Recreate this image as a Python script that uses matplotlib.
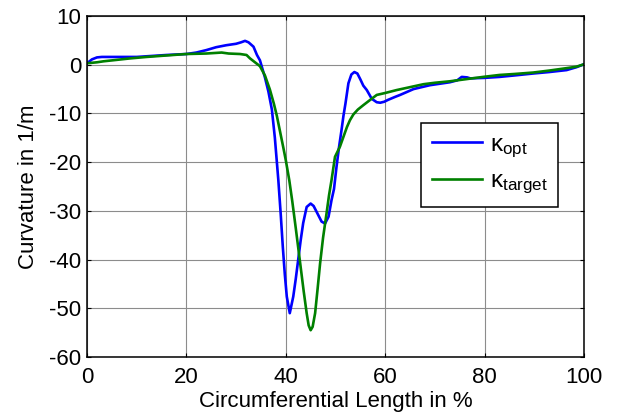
import numpy as np
import matplotlib
matplotlib.use('Agg')
import matplotlib.pyplot as plt

plt.rcParams['font.family'] = ['Liberation Sans', 'DejaVu Sans']
plt.rcParams['mathtext.fontset'] = 'custom'
plt.rcParams['mathtext.rm'] = 'Liberation Sans'
plt.rcParams['mathtext.it'] = 'Liberation Sans'
plt.rcParams['axes.unicode_minus'] = False

# kappa_opt (blue)
x_opt = [0, 1, 2, 3, 5, 8, 10, 13, 16, 20, 22, 24, 26, 28, 30, 31, 31.8, 32.5,
         33.5, 34.2, 34.8, 35.8, 36.5, 37.2, 37.8, 38.5, 39.0, 39.4, 39.8, 40.2,
         40.8, 41.5, 42.0, 42.5, 43.0, 43.5, 44.2, 45.0, 45.6, 46.2, 47.2, 47.9,
         48.6, 49.2, 49.7, 50.2, 50.7, 51.2, 51.6, 52.0, 52.6, 53.2, 53.8, 54.4,
         55.0, 55.6, 56.3, 57.3, 58.3, 59.0, 59.8, 60.6, 62, 63, 65.7, 69, 73,
         74.5, 75.4, 76.5, 77.1, 80, 83, 86, 89.8, 93, 96.5, 98.5, 100]
k_opt = [0.3, 1.1, 1.5, 1.6, 1.6, 1.6, 1.6, 1.8, 2.0, 2.2, 2.5, 3.0, 3.6, 4.0,
         4.3, 4.6, 4.9, 4.6, 3.7, 2.0, 0.9, -2.6, -5.5, -9.2, -15, -23.7, -31,
         -37.4, -43, -47.6, -51.0, -47.6, -44, -40, -36, -32.5, -29.2, -28.5,
         -29.0, -30.2, -32.2, -32.6, -31.2, -27.8, -25.5, -21, -17, -13.5, -10.5,
         -8, -3.8, -2.0, -1.5, -1.8, -3.0, -4.3, -5.2, -7.0, -7.7, -7.8, -7.6,
         -7.2, -6.6, -6.2, -5.0, -4.2, -3.6, -3.2, -2.5, -2.6, -2.8, -2.7, -2.5,
         -2.2, -1.8, -1.5, -1.1, -0.5, 0.1]

# kappa_target (green)
x_target = [0, 2, 3.3, 6, 8.7, 12, 16, 20, 24, 27.1, 28.5, 30.8, 32.1, 32.8, 33.8,
            34.8, 35.8, 36.8, 37.6, 38.2, 38.8, 39.5, 40.0, 40.7, 41.3, 42.0, 42.9,
            43.6, 44.2, 44.6, 45.0, 45.4, 45.9, 46.4, 46.9, 47.5, 48.2, 48.7, 49.2,
            49.9, 50.9, 51.6, 52.3, 52.9, 53.6, 54.5, 55.6, 57.0, 58.3, 60, 62.3,
            65, 67.7, 70, 73, 76, 79.7, 83, 86, 89.8, 93, 96.5, 98.5, 100]
k_target = [0.3, 0.5, 0.7, 1.0, 1.3, 1.6, 1.9, 2.2, 2.3, 2.5, 2.3, 2.2, 2.0, 1.3,
            0.5, -0.3, -2.2, -5.1, -8, -10.5, -13.5, -17, -19.6, -23.7, -28,
            -33.5, -40.8, -46.5, -51, -53.5, -54.5, -53.8, -51, -46, -40.8, -35.5,
            -30.5, -26.8, -23.7, -18.9, -16.8, -14.8, -12.8, -11.4, -10.2, -9.2,
            -8.3, -7.2, -6.2, -5.8, -5.2, -4.6, -4.0, -3.7, -3.4, -3.0, -2.5, -2.1,
            -1.9, -1.6, -1.2, -0.7, -0.4, 0.1]

xticks = [0, 20, 40, 60, 80, 100]
yticks = [-60, -50, -40, -30, -20, -10, 0, 10]

fig = plt.figure(figsize=(6.17, 4.16), dpi=100)
ax = fig.add_axes([0.141, 0.1418, 0.8055, 0.8197])

ax.plot(x_opt, k_opt, color='#0000ff', lw=1.9, label=r'κ$_{\mathrm{opt}}$')
ax.plot(x_target, k_target, color='#008000', lw=1.9, label=r'κ$_{\mathrm{target}}$')

ax.set_xlim(0, 100)
ax.set_ylim(-60, 10)
ax.set_xticks(xticks)
ax.set_yticks(yticks)
ax.grid(True, color='#8c8c8c', lw=0.8)
ax.tick_params(direction='in', length=3, width=0.8, top=True, right=True,
               labelsize=16)
ax.tick_params(axis='x', pad=7)
ax.tick_params(axis='y', pad=4)
for s in ax.spines.values():
    s.set_linewidth(1.1)

ax.set_xlabel('Circumferential Length in %', fontsize=16, labelpad=2)
ax.set_ylabel('Curvature in 1/m', fontsize=16, labelpad=7)

leg = ax.legend(loc='upper left', bbox_to_anchor=(0.673, 0.687), fontsize=17.5,
                fancybox=False, framealpha=1, edgecolor='black',
                handlelength=2.05, borderpad=0.45, labelspacing=0.45,
                handletextpad=0.3, borderaxespad=0)
leg.get_frame().set_linewidth(1.1)

fig.savefig('out.png', dpi=100)
